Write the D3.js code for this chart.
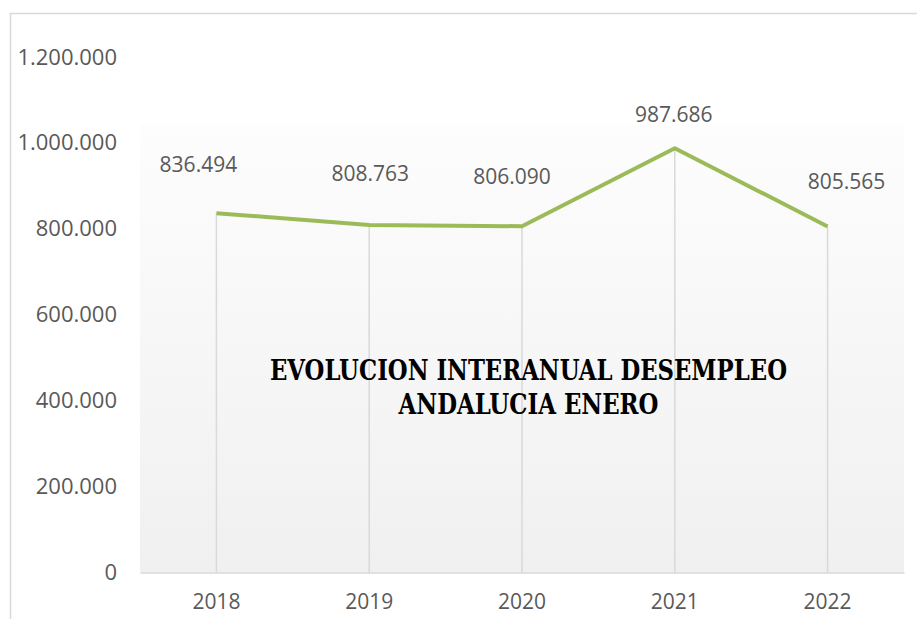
<!DOCTYPE html>
<html>
<head>
<meta charset="utf-8">
<script src="https://cdn.jsdelivr.net/npm/d3@7"></script>
<style>
  body { margin: 0; background: #fff; }
  svg { display: block; }
</style>
</head>
<body>
<svg id="chart" width="917" height="619"></svg>
<script>
// data
const years = ['2018', '2019', '2020', '2021', '2022'];
const paro = [836494, 808763, 806090, 987686, 805565];
const yTicks = [0, 200000, 400000, 600000, 800000, 1000000, 1200000];
const titleLines = ['EVOLUCION INTERANUAL DESEMPLEO', 'ANDALUCIA ENERO'];
// excel moved the labels by hand, keep the nudge (dx, dy from the point)
const labelNudge = [[-18, -41], [1, -44], [-10, -42], [-1, -26], [19, -37]];

const svg = d3.select('#chart');
const fmt = (v) => d3.format(',')(v).replace(/,/g, '.');

const left = 140, right = 904, bottom = 572.5;
const x = d3.scaleBand().domain(years).range([left, right]);
const y = d3.scaleLinear().domain([0, 1200000]).range([bottom, 57]);
const cx = (d) => x(d) + x.bandwidth() / 2;

// outer chart border (cut by the window on right / bottom)
svg.append('rect')
    .attr('x', 10.5).attr('y', 13.5)
    .attr('width', 950).attr('height', 700)
    .attr('fill', 'none').attr('stroke', '#d9d9d9').attr('stroke-width', 1.5);

// plot area gradient
const grad = svg.append('defs').append('linearGradient')
    .attr('id', 'plotGrad').attr('x1', 0).attr('y1', 0).attr('x2', 0).attr('y2', 1);
grad.append('stop').attr('offset', 0).attr('stop-color', '#fdfdfd');
grad.append('stop').attr('offset', 1).attr('stop-color', '#f0f0f0');

svg.append('rect')
    .attr('x', left).attr('y', 125)
    .attr('width', right - left).attr('height', bottom - 125)
    .attr('fill', 'url(#plotGrad)');

// y axis labels
svg.append('g')
    .attr('transform', 'translate(117,0)')
    .call(d3.axisLeft(y).tickValues(yTicks).tickFormat(fmt).tickSize(0).tickPadding(0))
    .call((g) => g.select('.domain').remove())
    .selectAll('text')
    .attr('font-family', '"Open Sans", sans-serif')
    .attr('font-size', 22)
    .attr('fill', '#595959');

// drop lines
svg.selectAll('.drop').data(years).enter().append('line')
    .attr('class', 'drop')
    .attr('x1', cx).attr('x2', cx)
    .attr('y1', (d, i) => y(paro[i])).attr('y2', bottom)
    .attr('stroke', '#d9d9d9').attr('stroke-width', 1.5);

// x axis
svg.append('g')
    .attr('transform', 'translate(0,' + bottom + ')')
    .call(d3.axisBottom(x).tickSize(0).tickPadding(22))
    .call((g) => g.select('.domain').attr('stroke', '#d9d9d9').attr('stroke-width', 1.5))
    .selectAll('text')
    .attr('font-family', '"Open Sans", sans-serif')
    .attr('font-size', 21)
    .attr('fill', '#595959');

// the line
const line = d3.line().x((d, i) => cx(years[i])).y((d) => y(d));
svg.append('path')
    .datum(paro)
    .attr('d', line)
    .attr('fill', 'none')
    .attr('stroke', '#9bbb59')
    .attr('stroke-width', 4)
    .attr('stroke-linejoin', 'round');

// data labels
svg.selectAll('.lbl').data(paro).enter().append('text')
    .attr('class', 'lbl')
    .attr('x', (d, i) => cx(years[i]) + labelNudge[i][0])
    .attr('y', (d, i) => y(d) + labelNudge[i][1])
    .attr('text-anchor', 'middle')
    .attr('font-family', '"Open Sans", sans-serif')
    .attr('font-size', 21)
    .attr('fill', '#595959')
    .text(fmt);

// title inside the plot
const titleWidths = [517, 260];
svg.selectAll('.title').data(titleLines).enter().append('text')
    .attr('class', 'title')
    .attr('x', 528.5)
    .attr('y', (d, i) => 380 + i * 34)
    .attr('text-anchor', 'middle')
    .attr('font-family', '"DejaVu Serif Condensed", "DejaVu Serif", serif')
    .attr('font-stretch', 'condensed')
    .attr('font-weight', 'bold')
    .attr('font-size', 28)
    .attr('textLength', (d, i) => titleWidths[i])
    .attr('lengthAdjust', 'spacingAndGlyphs')
    .attr('fill', '#000')
    .text((d) => d);
</script>
</body>
</html>
